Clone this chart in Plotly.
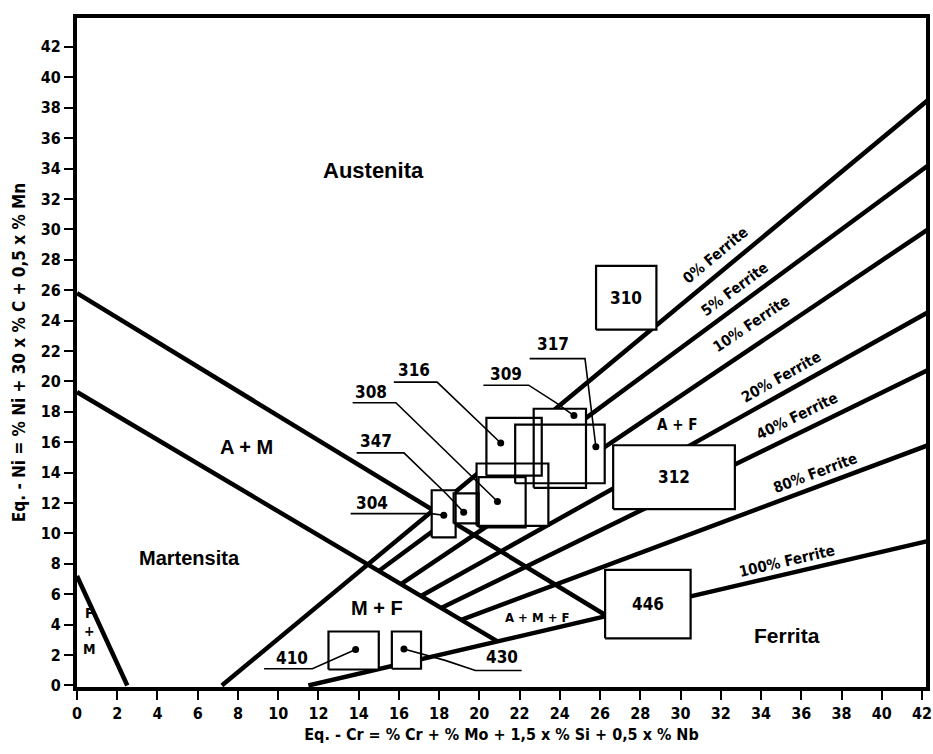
import math
import plotly.graph_objects as go

# ---------------- data ----------------
x_ticks = list(range(0, 43, 2))
y_ticks = list(range(0, 43, 2))

# phase boundary lines (Eq-Cr, Eq-Ni)
am_upper_x = [0, 26.3]
am_upper_y = [25.8, 4.6]
am_lower_x = [0, 20.9]
am_lower_y = [19.3, 2.9]
fm_x = [0, 2.5]
fm_y = [7.2, 0]

# ferrite iso-lines: start point and end point on right edge
ferrite_names = ["0% Ferrite", "5% Ferrite", "10% Ferrite", "20% Ferrite",
                 "40% Ferrite", "80% Ferrite", "100% Ferrite"]
ferrite_x0 = [7.2, 15.0, 16.1, 17.1, 18.1, 19.1, 11.5]
ferrite_y0 = [0.0, 7.53, 6.66, 5.88, 5.09, 4.31, 0.0]
ferrite_x1 = [42.3, 42.3, 42.3, 42.3, 42.3, 42.3, 42.3]
ferrite_y1 = [38.5, 34.2, 30.0, 24.55, 20.75, 15.8, 9.5]
ferrite_lab_x = [31.75, 32.7, 33.5, 35.0, 35.8, 36.7, 35.3]
ferrite_lab_y = [28.3, 26.1, 23.8, 20.3, 17.7, 14.0, 8.2]

# steel composition boxes
box_names = ["310", "312", "446", "410", "430", "304", "347", "308", "308",
             "316", "317", "309"]
box_x0 = [25.8, 26.65, 26.25, 12.5, 15.65, 17.63, 18.72, 19.86, 19.96, 20.35, 21.78, 22.7]
box_x1 = [28.8, 32.7, 30.5, 15.0, 17.1, 18.82, 19.96, 23.43, 22.3, 23.1, 26.23, 25.3]
box_y0 = [23.4, 11.6, 3.1, 1.05, 1.1, 9.74, 10.66, 10.5, 10.4, 13.8, 13.3, 13.0]
box_y1 = [27.6, 15.8, 7.6, 3.55, 3.55, 12.84, 12.64, 14.6, 13.7, 17.6, 17.15, 18.2]

# labelled points with leader lines
pt_names = ["410", "430", "304", "347", "308", "316", "309", "317"]
pt_x = [13.85, 16.25, 18.23, 19.22, 20.9, 21.06, 24.7, 25.79]
pt_y = [2.37, 2.4, 11.2, 11.4, 12.1, 15.95, 17.75, 15.7]
lab_x = [10.7, 21.1, 14.66, 14.86, 14.6, 16.74, 21.3, 23.67]
lab_y = [1.8, 1.85, 12.0, 16.1, 19.3, 20.74, 20.5, 22.45]
leader_x = [[9.3, 11.7], [22.1, 19.8, 18.3], [13.6, 17.6], [13.9, 16.25, 18.33],
            [13.7, 15.85], [15.75, 17.9], [20.2, 22.45, 23.8], [22.5, 25.25]]
leader_y = [[1.1, 1.1], [0.99, 0.99, 1.65], [11.3, 11.3], [15.3, 15.3, 12.64],
            [18.6, 18.6], [19.95, 19.95], [19.75, 19.75, 18.6], [21.5, 21.5]]

# box labels inside boxes
inbox_names = ["310", "312", "446"]

# region labels
region_text = ["Austenita", "A + M", "Martensita", "M + F", "Ferrita",
               "F<br>+<br>M", "A + F", "A + M + F"]
region_x = [14.75, 8.4, 5.6, 14.9, 35.3, 0.6, 29.8, 22.9]
region_y = [33.9, 15.7, 8.4, 5.1, 3.3, 3.6, 17.1, 4.5]
region_size = [22, 20, 20, 20, 21, 14, 15, 13]

# ---------------- layout constants ----------------
W, H = 933, 754
ML, MR, MT, MB = 77, 7, 18, 67
XR = [0, 42.2]
YR = [-0.1, 43.9]
px_x = (W - ML - MR) / (XR[1] - XR[0])
px_y = (H - MT - MB) / (YR[1] - YR[0])

NARROW = "DejaVu Sans Condensed, Liberation Sans Narrow, Arial Narrow, Liberation Sans, sans-serif"
SANS = "Liberation Sans, Arial, sans-serif"

fig = go.Figure()

thick = dict(color="black", width=4.5)
for xs, ys in [(am_upper_x, am_upper_y), (am_lower_x, am_lower_y), (fm_x, fm_y)]:
    fig.add_trace(go.Scatter(x=xs, y=ys, mode="lines", line=thick,
                             hoverinfo="skip", showlegend=False))
for i in range(len(ferrite_names)):
    fig.add_trace(go.Scatter(x=[ferrite_x0[i], ferrite_x1[i]],
                             y=[ferrite_y0[i], ferrite_y1[i]],
                             mode="lines", line=thick, name=ferrite_names[i],
                             hoverinfo="skip", showlegend=False))

# box white fills
for i in range(len(box_names)):
    fig.add_trace(go.Scatter(
        x=[box_x0[i], box_x1[i], box_x1[i], box_x0[i], box_x0[i]],
        y=[box_y0[i], box_y0[i], box_y1[i], box_y1[i], box_y0[i]],
        mode="lines", fill="toself", fillcolor="white",
        line=dict(width=0, color="white"), hoverinfo="skip", showlegend=False))
# box outlines
for i in range(len(box_names)):
    fig.add_trace(go.Scatter(
        x=[box_x0[i], box_x1[i], box_x1[i], box_x0[i], box_x0[i]],
        y=[box_y0[i], box_y0[i], box_y1[i], box_y1[i], box_y0[i]],
        mode="lines", line=dict(width=2.2, color="black"),
        name=box_names[i], hoverinfo="skip", showlegend=False))

# leaders
for i in range(len(pt_names)):
    fig.add_trace(go.Scatter(x=leader_x[i] + [pt_x[i]], y=leader_y[i] + [pt_y[i]],
                             mode="lines", line=dict(width=1.6, color="black"),
                             hoverinfo="skip", showlegend=False))
fig.add_trace(go.Scatter(x=pt_x, y=pt_y, mode="markers",
                         marker=dict(size=7, color="black"),
                         hoverinfo="skip", showlegend=False))

ann = []
for i in range(len(pt_names)):
    ann.append(dict(x=lab_x[i], y=lab_y[i], text=pt_names[i], showarrow=False,
                    font=dict(family=NARROW, size=17, color="black", weight="bold")))
for nm in inbox_names:
    i = box_names.index(nm)
    ann.append(dict(x=(box_x0[i] + box_x1[i]) / 2, y=(box_y0[i] + box_y1[i]) / 2,
                    text=nm, showarrow=False,
                    font=dict(family=NARROW, size=17, color="black", weight="bold")))
for i in range(len(ferrite_names)):
    slope = (ferrite_y1[i] - ferrite_y0[i]) / (ferrite_x1[i] - ferrite_x0[i])
    ang = math.degrees(math.atan(slope * px_y / px_x))
    ann.append(dict(x=ferrite_lab_x[i], y=ferrite_lab_y[i], text=ferrite_names[i],
                    showarrow=False, textangle=-ang,
                    font=dict(family=NARROW, size=15, color="black", weight="bold")))
for i in range(len(region_text)):
    fam = SANS if region_size[i] >= 18 else NARROW
    ann.append(dict(x=region_x[i], y=region_y[i], text=region_text[i], showarrow=False,
                    font=dict(family=fam, size=region_size[i], color="black",
                              weight="bold")))

fig.update_layout(
    width=W, height=H,
    margin=dict(l=ML, r=MR, t=MT, b=MB, autoexpand=False),
    paper_bgcolor="white", plot_bgcolor="white",
    annotations=ann,
    xaxis=dict(range=XR, tickvals=x_ticks, ticktext=[str(v) for v in x_ticks],
               automargin=False, ticklabeloverflow="allow",
               showgrid=False, zeroline=False, showline=True, mirror=True,
               linewidth=4, linecolor="black", ticks="outside", ticklen=9,
               tickwidth=2, tickcolor="black",
               tickfont=dict(family=NARROW, size=16, color="black", weight="bold"),
               title=dict(text="Eq. - Cr = % Cr + % Mo + 1,5 x % Si + 0,5 x % Nb",
                          font=dict(family=NARROW, size=16, color="black", weight="bold"),
                          standoff=8)),
    yaxis=dict(range=YR, tickvals=y_ticks, ticktext=[str(v) for v in y_ticks],
               automargin=False,
               showgrid=False, zeroline=False, showline=True, mirror=True,
               linewidth=4, linecolor="black", ticks="outside", ticklen=9,
               tickwidth=2, tickcolor="black",
               tickfont=dict(family=NARROW, size=16, color="black", weight="bold"),
               title=dict(text="Eq. - Ni = % Ni + 30 x % C + 0,5 x % Mn",
                          font=dict(family=NARROW, size=17, color="black", weight="bold"),
                          standoff=12)),
)

fig.write_html("out.html", config={"displayModeBar": False},
               post_script="document.body.style.margin='0';document.body.style.overflow='hidden';")
